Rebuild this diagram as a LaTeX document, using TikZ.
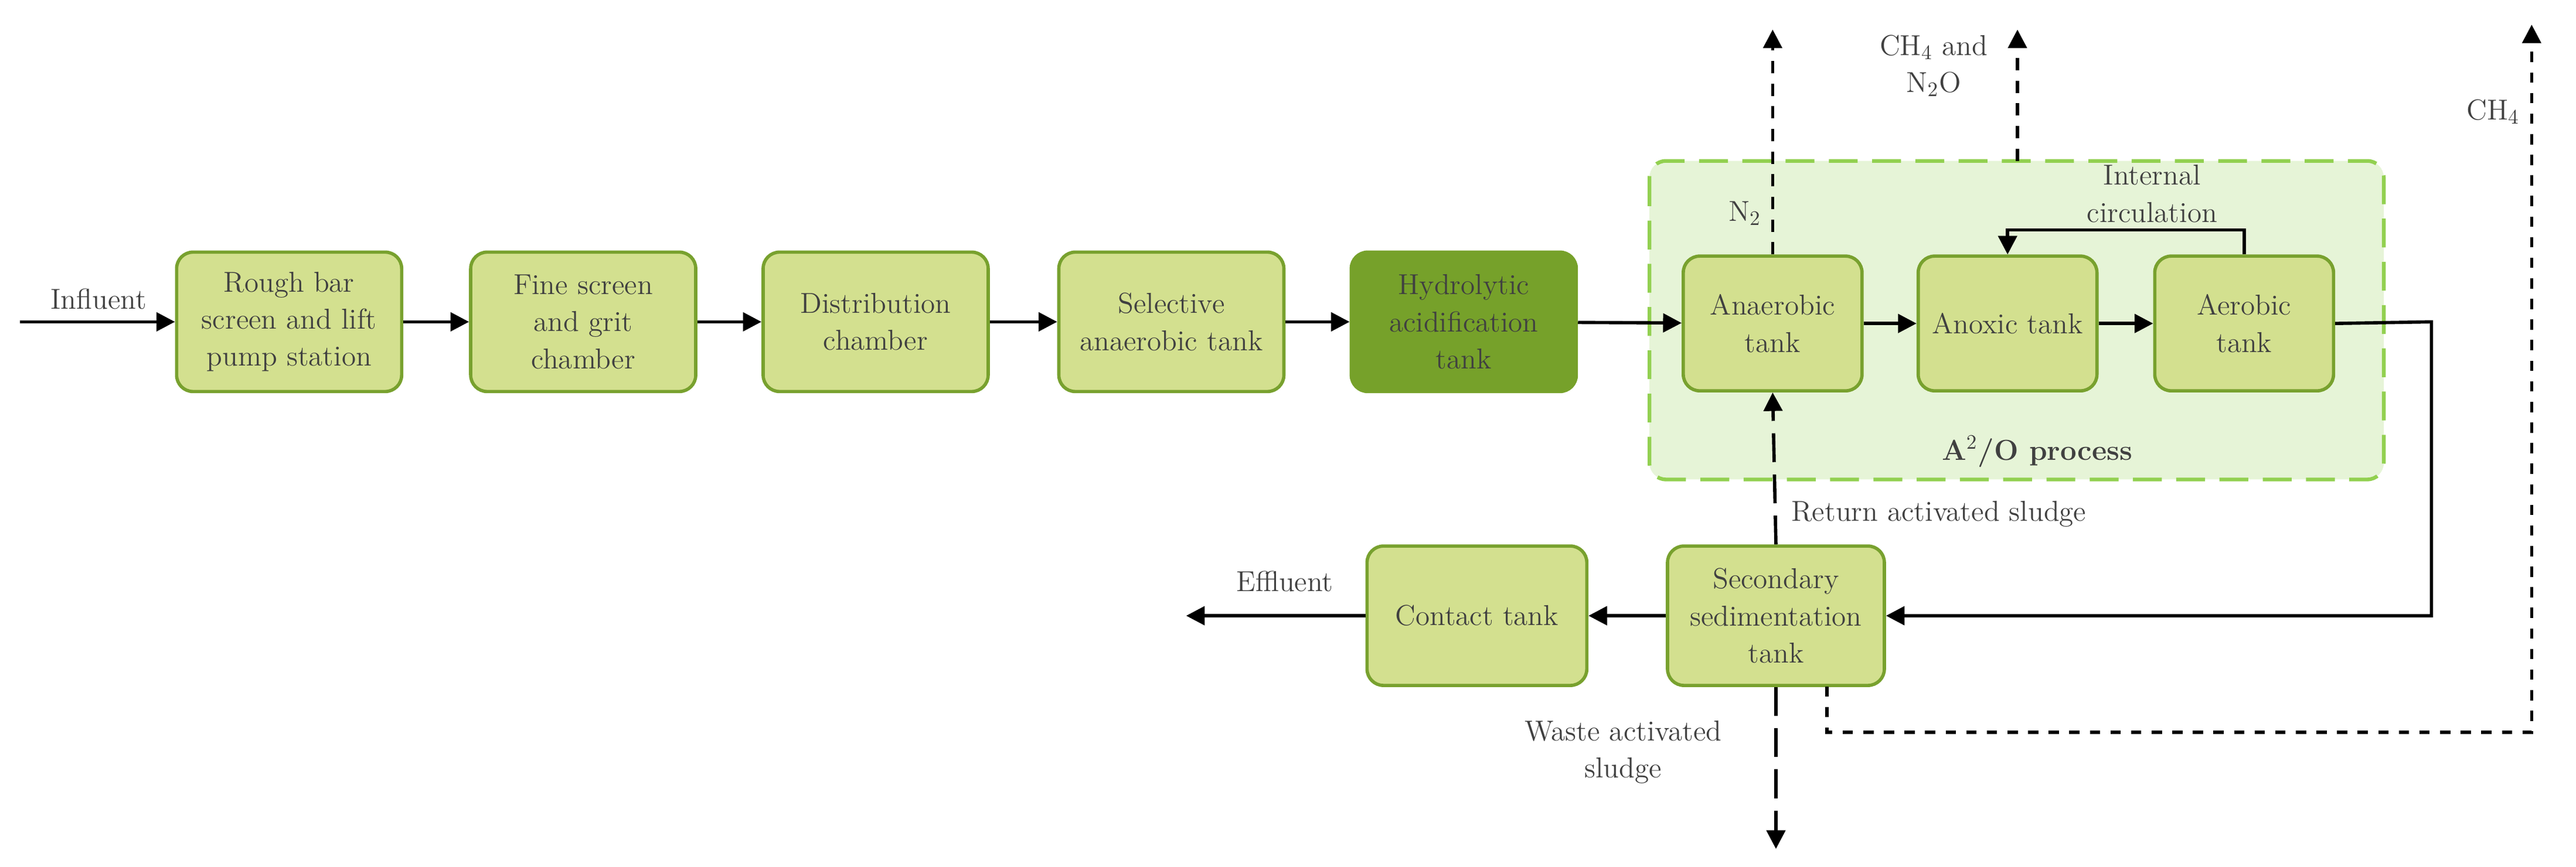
\documentclass[tikz,border=0pt]{standalone}
\usetikzlibrary{arrows.meta, positioning}
\definecolor{boxfill}{RGB}{211,224,143}
\definecolor{boxline}{RGB}{120,161,46}
\definecolor{darkfill}{RGB}{118,161,42}
\definecolor{zonefill}{RGB}{230,244,215}
\definecolor{zoneline}{RGB}{146,208,80}
\definecolor{txt}{RGB}{64,64,64}
\tikzset{
    tank/.style={rectangle, rounded corners=8pt, draw=boxline, line width=1.6pt, fill=boxfill,
        minimum width=3.84cm, minimum height=2.38cm, align=center, text=txt,
        font=\fontsize{14}{18}\selectfont},
    flow/.style={line width=1.6pt, -{Triangle[length=9pt,width=9pt]}},
    lbl/.style={text=txt, align=center, font=\fontsize{14}{18}\selectfont}
}
\begin{document}
\begin{tikzpicture}[x=0.02803cm, y=-0.02803cm, line cap=butt]
    \useasboundingbox (0,0) rectangle (1568,528);

    % A2O zone
    \draw[zoneline, fill=zonefill, line width=1.8pt, dash pattern=on 14pt off 7pt, rounded corners=8pt]
        (1004,98) rectangle (1451,292);
    \node[lbl, font=\fontsize{14}{18}\selectfont\bfseries] (a2o) at (1240,275) {A$^{2}$/O process};

    % Main line
    \node[tank] (rough) at (176,196) {Rough bar\\screen and lift\\pump station};
    \node[tank] (fine) at (355,196) {Fine screen\\and grit\\chamber};
    \node[tank] (dist) at (533,196) {Distribution\\chamber};
    \node[tank] (sel) at (713,196) {Selective\\anaerobic tank};
    \node[tank, fill=darkfill, draw=darkfill] (hyd) at (891,196) {Hydrolytic\\acidification\\tank};
    \node[tank, minimum width=3.05cm, minimum height=2.3cm] (anae) at (1079,197) {Anaerobic\\tank};
    \node[tank, minimum width=3.05cm, minimum height=2.3cm] (anox) at (1222,197) {Anoxic tank};
    \node[tank, minimum width=3.05cm, minimum height=2.3cm] (aer) at (1366,197) {Aerobic\\tank};
    \node[tank, minimum width=3.7cm] (sec) at (1081,375) {Secondary\\sedimentation\\tank};
    \node[tank, minimum width=3.75cm] (cont) at (899,375) {Contact tank};

    \coordinate (inf) at (12,196);
    \coordinate (eff) at (722,375);
    \coordinate (turn) at (1480,196);
    \node[lbl] (inflbl) at (60,182) {Influent};
    \node[lbl] (efflbl) at (782,354) {Effluent};

    % Edges
    \draw[flow] (inf) -- (rough);
    \foreach \source/\target in {rough/fine, fine/dist, dist/sel, sel/hyd, hyd/anae, anae/anox, anox/aer, cont/eff, sec/cont} {
            \draw[flow] (\source) -- (\target);
        }
    \draw[flow] (aer.east) -- (turn) |- (sec.east);

    % Internal circulation
    \coordinate (ic) at (1366,140);
    \draw[flow] (aer.north) -- (ic) -| (anox.north);
    \node[lbl] (iclbl) at (1310,118) {Internal\\circulation};

    % Gas
    \coordinate (ntop) at (1079,18);
    \draw[flow, dash pattern=on 6pt off 5pt] (anae.north) -- (ntop);
    \node[lbl] (nlbl) at (1062,130) {N$_2$};
    \coordinate (gbot) at (1228,98);
    \coordinate (gtop) at (1228,18);
    \draw[flow, dash pattern=on 6pt off 5pt] (gbot) -- (gtop);
    \node[lbl] (glbl) at (1177,40) {CH$_4$ and\\N$_2$O};

    % Sludge
    \draw[flow, dash pattern=on 14pt off 6pt] (sec.north) -- (anae.south);
    \node[lbl, anchor=west] (rlbl) at (1086,313) {Return activated sludge};
    \coordinate (wbot) at (1081,517);
    \draw[flow, dash pattern=on 14pt off 6pt] (sec.south) -- (wbot);
    \node[lbl] (wlbl) at (988,458) {Waste activated\\sludge};

    % Methane
    \coordinate (mstart) at (1112,418);
    \coordinate (mcorner) at (1541,446);
    \coordinate (mtop) at (1541,15);
    \draw[flow, dash pattern=on 5pt off 5pt] (mstart) |- (mcorner) -- (mtop);
    \node[lbl, anchor=east] (mlbl) at (1538,68) {CH$_4$};
\end{tikzpicture}
\end{document}
